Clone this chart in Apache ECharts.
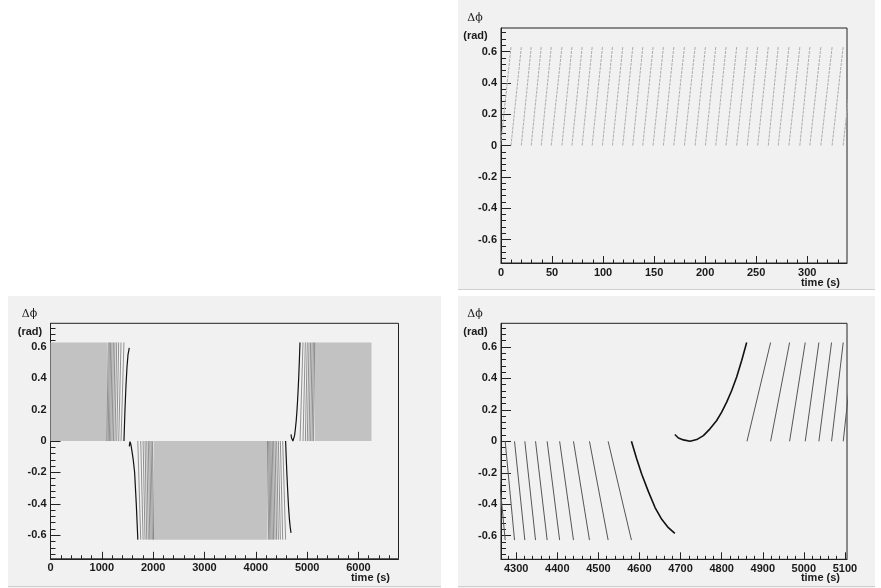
<!DOCTYPE html>
<html>
<head>
<meta charset="utf-8">
<title>phase difference vs time</title>
<script src="https://cdn.jsdelivr.net/npm/echarts@6/dist/echarts.min.js"></script>
<style>
    html, body { margin: 0; padding: 0; background: #fff; }
    #main { width: 881px; height: 588px; }
</style>
</head>
<body>
<div id="main"></div>
<script>
var wrapTop = 0.628;
var wrapBottom = -0.628;

// top-right pad: times (s) where a rising ramp hits the top and restarts at 0
var trWraps = [-0.4, 9.8, 19.9, 29.6, 39.4, 49.2, 59.7, 69.5, 79.5, 89.3, 99.4, 109.2, 119.3,
    129.1, 138.9, 149.0, 159.1, 169.3, 179.7, 190.2, 200.3, 210.4, 220.5, 230.9, 241.3, 251.5,
    261.9, 271.6, 282.1, 292.8, 302.6, 313.4, 324.4, 335.2, 345.9];

// turning point near 1550 s (only seen in the full-range pad)
var riseWraps1 = [1100, 1124, 1147, 1172, 1198, 1226, 1256, 1290, 1329, 1374, 1431];
var riseCurve1 = [[1431, 0], [1450, 0.19], [1470, 0.35], [1490, 0.47], [1510, 0.55], [1535, 0.594]];
var fallCurve1 = [[1535, -0.034], [1548, -0.004], [1565, -0.02], [1590, -0.07], [1611, -0.117],
    [1639, -0.2], [1671, -0.4], [1697, -0.594], [1701, -0.628]];
var fallWraps1 = [1701, 1758, 1804, 1842, 1875, 1906, 1934, 1960, 1985, 2008];

// turning point near 4720 s (bottom-right pad and full-range pad)
var fallWraps2 = [4228, 4250.5, 4273.2, 4295.9, 4321.0, 4347.0, 4375.3, 4405.7, 4439.4, 4478.3,
    4523.7, 4580.4];
var fallCurve2 = [[4580.4, 0], [4593.3, -0.113], [4605.5, -0.209], [4621.7, -0.32], [4637.9, -0.421],
    [4654.1, -0.496], [4670.3, -0.549], [4686.0, -0.585]];
var riseCurve2 = [[4686.0, 0.043], [4694.8, 0.021], [4706.9, 0.009], [4723.1, 0], [4739.3, 0.011],
    [4755.5, 0.036], [4771.6, 0.079], [4787.9, 0.132], [4800.0, 0.185], [4812.2, 0.249],
    [4824.4, 0.323], [4836.5, 0.409], [4848.9, 0.515], [4860.8, 0.628]];
var riseWraps2 = [4861.6, 4919.1, 4965.3, 5003.4, 5036.6, 5067.4, 5095.8, 5122, 5147];

// stretches too dense to resolve in the full-range pad: [t0, t1, low, high]
var denseBands = [[0, 1100, 0, 0.628], [2008, 4228, -0.628, 0], [5147, 6254, 0, 0.628]];

// axis ticks
var trXTicks = [0, 50, 100, 150, 200, 250, 300];
var blXTicks = [0, 1000, 2000, 3000, 4000, 5000, 6000];
var brXTicks = [4300, 4400, 4500, 4600, 4700, 4800, 4900, 5000, 5100];
var yTicks = [-0.6, -0.4, -0.2, 0, 0.2, 0.4, 0.6];

var frameColor = '#222';
var textColor = '#1a1a1a';
var padColor = '#f1f1f1';

function steps(from, to, step) {
    var out = [];
    var n = Math.round((to - from) / step);
    for (var i = 0; i <= n; i++) {
        out.push(Math.round((from + i * step) * 1000) / 1000);
    }
    return out;
}

// straight ramps between consecutive wrap times, broken between ramps
function ramps(wraps, end) {
    var pts = [];
    for (var i = 0; i + 1 < wraps.length; i++) {
        pts.push([wraps[i], 0], [wraps[i + 1], end], ['-', '-']);
    }
    return pts;
}

function joined(parts) {
    var out = [];
    parts.forEach(function (p) {
        out = out.concat(p);
        out.push(['-', '-']);
    });
    return out;
}

function fmt(v) {
    return String(v);
}

var labelStyle = {
    margin: 4,
    fontFamily: 'Liberation Sans',
    fontWeight: 'bold',
    fontSize: 11,
    color: textColor,
    formatter: fmt
};

function xAxisFor(grid, min, max, ticks, minor) {
    return {
        type: 'value', gridIndex: grid, min: min, max: max, position: 'bottom',
        axisLine: { show: !minor, onZero: false, lineStyle: { color: frameColor, width: 1 } },
        axisTick: {
            show: true, inside: true, length: minor ? 3.5 : 7, customValues: ticks,
            lineStyle: { color: frameColor, width: 1 }
        },
        axisLabel: minor ? { show: false } : Object.assign({ customValues: ticks }, labelStyle),
        splitLine: { show: false }
    };
}

function yAxisFor(grid, minor) {
    return {
        type: 'value', gridIndex: grid, min: -0.75, max: 0.75, position: 'left',
        axisLine: { show: !minor, onZero: false, lineStyle: { color: frameColor, width: 1 } },
        axisTick: {
            show: true, inside: true, length: minor ? 5 : 10,
            customValues: minor ? steps(-0.72, 0.72, 0.04) : yTicks,
            lineStyle: { color: frameColor, width: 1 }
        },
        axisLabel: minor ? { show: false } : Object.assign({ customValues: yTicks }, labelStyle),
        splitLine: { show: false }
    };
}

function rampSeries(grid, data, color, width, dash) {
    return {
        type: 'line', xAxisIndex: grid, yAxisIndex: grid,
        data: data, showSymbol: false, symbol: 'none', silent: true,
        connectNulls: false, clip: true,
        lineStyle: { color: color, width: width, type: dash || 'solid' }
    };
}

var gridBox = { show: true, borderColor: frameColor, borderWidth: 1, outerBoundsMode: 'none' };

function texts(cx, top, timeRight, timeY) {
    return [
        { type: 'text', z: 100, x: cx, y: top, style: { text: 'Δϕ', font: '11px "DejaVu Serif"', fill: textColor, align: 'center', verticalAlign: 'middle' } },
        { type: 'text', z: 100, x: cx + 0.5, y: top + 17.5, style: { text: '(rad)', font: 'bold 11px "Liberation Sans"', fill: textColor, align: 'center', verticalAlign: 'middle' } },
        { type: 'text', z: 100, x: timeRight, y: timeY, style: { text: 'time (s)', font: 'bold 11px "Liberation Sans"', fill: textColor, align: 'right', verticalAlign: 'middle' } }
    ];
}

var chart = echarts.init(document.getElementById('main'), null, { renderer: 'canvas' });

var option = {
    animation: false,
    backgroundColor: '#fff',
    graphic: [
        { type: 'rect', z: -100, shape: { x: 458, y: 0, width: 417, height: 290 }, style: { fill: padColor } },
        { type: 'rect', z: -100, shape: { x: 8, y: 296, width: 433, height: 292 }, style: { fill: padColor } },
        { type: 'rect', z: -100, shape: { x: 458, y: 296, width: 417, height: 292 }, style: { fill: padColor } },
        { type: 'rect', z: -99, shape: { x: 458, y: 289, width: 417, height: 1 }, style: { fill: '#cfcfcf' } },
        { type: 'rect', z: -99, shape: { x: 8, y: 586, width: 433, height: 1 }, style: { fill: '#cfcfcf' } },
        { type: 'rect', z: -99, shape: { x: 458, y: 586, width: 417, height: 1 }, style: { fill: '#cfcfcf' } }
    ].concat(texts(475, 18, 840, 283), texts(29.5, 314.5, 390, 578), texts(475, 314.5, 840, 578)),
    grid: [
        Object.assign({ left: 501, top: 28, width: 346, height: 235 }, gridBox),
        Object.assign({ left: 50.5, top: 323.3, width: 348, height: 235.5 }, gridBox),
        Object.assign({ left: 501, top: 323.3, width: 346, height: 236 }, gridBox)
    ],
    xAxis: [
        xAxisFor(0, 0, 339, trXTicks, false),
        xAxisFor(1, 0, 6780, blXTicks, false),
        xAxisFor(2, 4263, 5105, brXTicks, false),
        xAxisFor(0, 0, 339, steps(10, 330, 10), true),
        xAxisFor(1, 0, 6780, steps(200, 6600, 200), true),
        xAxisFor(2, 4263, 5105, steps(4280, 5100, 20), true)
    ],
    yAxis: [
        yAxisFor(0, false), yAxisFor(1, false), yAxisFor(2, false),
        yAxisFor(0, true), yAxisFor(1, true), yAxisFor(2, true)
    ],
    series: [
        // top-right: first 340 s
        rampSeries(0, ramps(trWraps, wrapTop), '#ababab', 1, [3, 1]),

        // bottom-left: full run
        {
            type: 'custom', xAxisIndex: 1, yAxisIndex: 1, silent: true, clip: true,
            data: denseBands,
            encode: { x: [0, 1], y: [2, 3] },
            renderItem: function (params, api) {
                var a = api.coord([api.value(0), api.value(3)]);
                var b = api.coord([api.value(1), api.value(3)]);
                var c = api.coord([api.value(1), api.value(2)]);
                var d = api.coord([api.value(0), api.value(2)]);
                return { type: 'polygon', shape: { points: [a, b, c, d] }, style: { fill: '#c2c2c2' } };
            }
        },
        rampSeries(1, joined([ramps(riseWraps1, wrapTop), ramps(fallWraps1, wrapBottom),
            ramps(fallWraps2, wrapBottom), ramps(riseWraps2, wrapTop)]), '#666', 0.7),
        rampSeries(1, joined([riseCurve1, fallCurve1, fallCurve2, riseCurve2]), '#111', 1.2),

        // bottom-right: around the second turning point
        rampSeries(2, joined([ramps(fallWraps2, wrapBottom), ramps(riseWraps2, wrapTop)]), '#555', 1),
        rampSeries(2, joined([fallCurve2, riseCurve2]), '#111', 1.6)
    ]
};

chart.setOption(option);
</script>
</body>
</html>
